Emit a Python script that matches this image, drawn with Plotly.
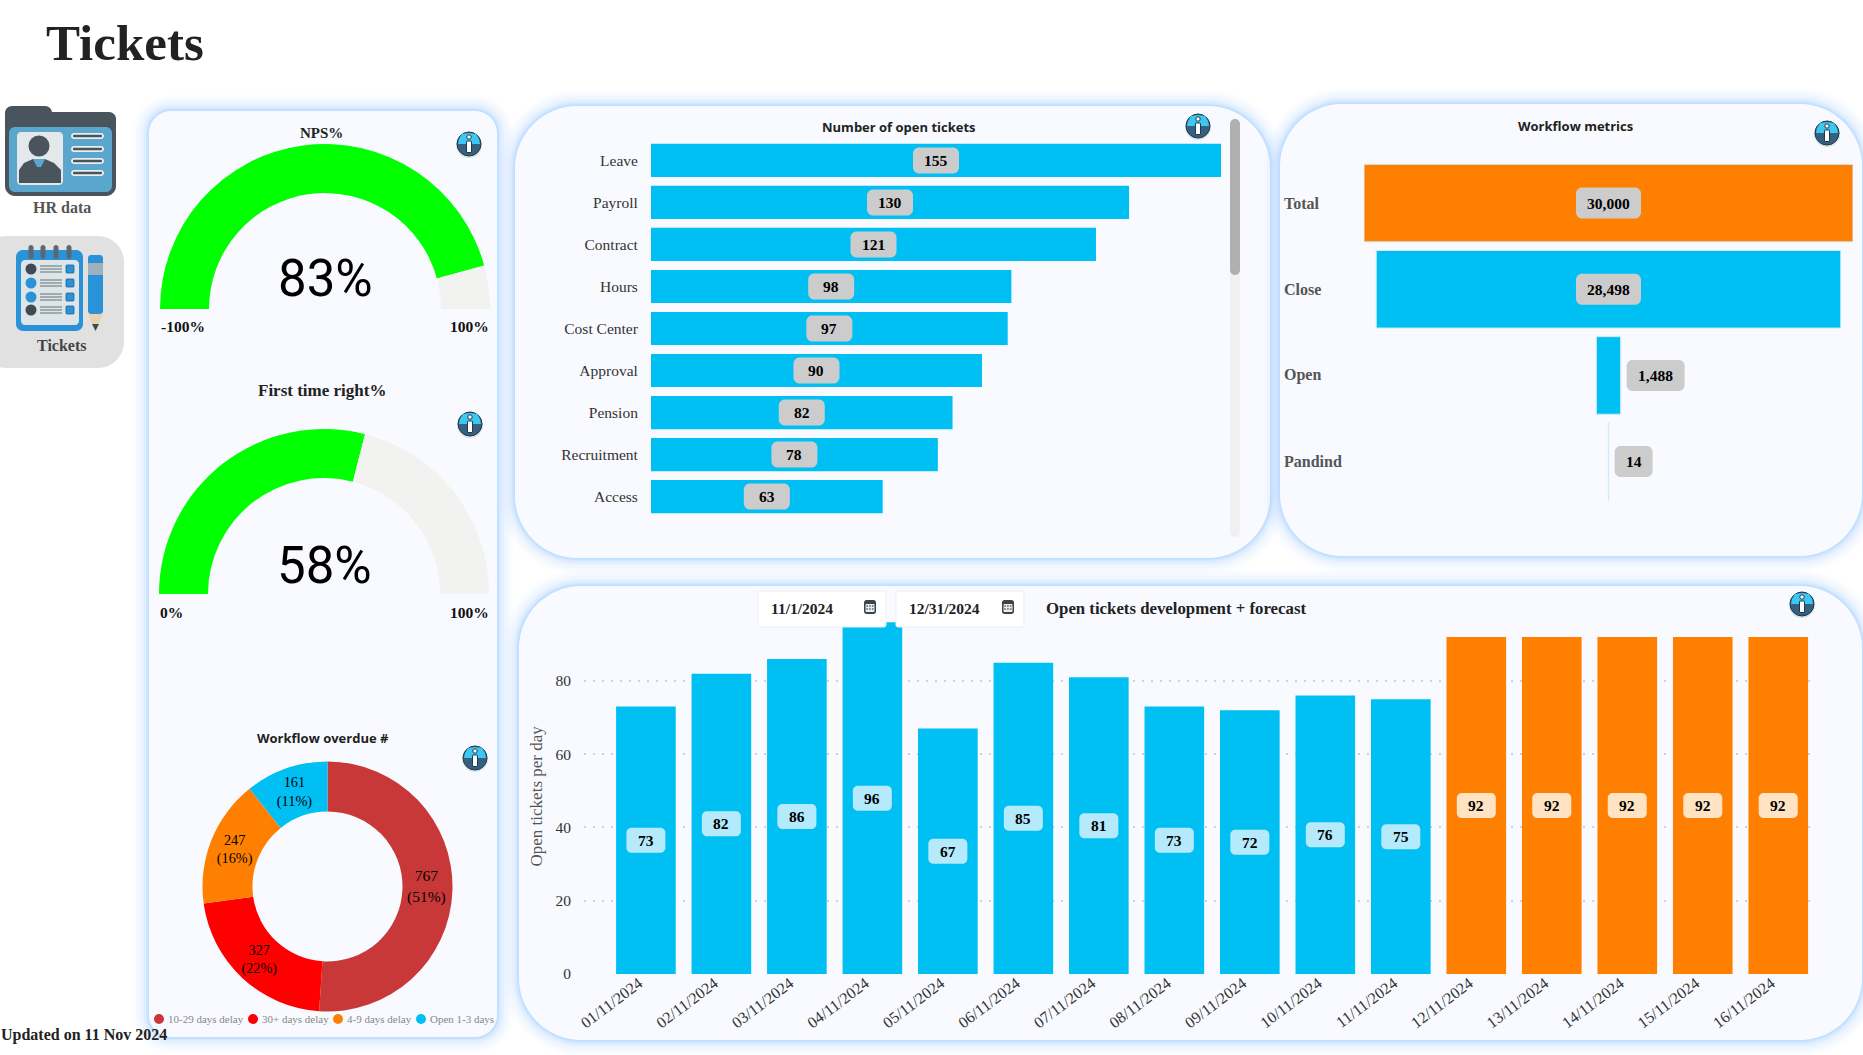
import plotly.graph_objects as go

# ---------- data ----------
nps_value = 83
nps_range = [-100, 100]
ftr_value = 58
ftr_range = [0, 100]

ticket_categories = ["Leave", "Payroll", "Contract", "Hours", "Cost Center", "Approval", "Pension", "Recruitment", "Access"]
ticket_counts = [155, 130, 121, 98, 97, 90, 82, 78, 63]

funnel_stages = ["Total", "Close", "Open", "Pandind"]
funnel_values = [30000, 28498, 1488, 14]

overdue_labels = ["10-29 days delay", "30+ days delay", "4-9 days delay", "Open 1-3 days"]
overdue_values = [767, 327, 247, 161]

actual_dates = ["01/11/2024", "02/11/2024", "03/11/2024", "04/11/2024", "05/11/2024", "06/11/2024",
                "07/11/2024", "08/11/2024", "09/11/2024", "10/11/2024", "11/11/2024"]
actual_open = [73, 82, 86, 96, 67, 85, 81, 73, 72, 76, 75]
forecast_dates = ["12/11/2024", "13/11/2024", "14/11/2024", "15/11/2024", "16/11/2024"]
forecast_open = [92, 92, 92, 92, 92]

# ---------- style ----------
W, H = 1863, 1055
SERIF = "Liberation Serif"
SANS = "Open Sans"
BLUE = "#00BFF3"
ORANGE = "#FF8000"
CRIMSON = "#C93838"
RED = "#FF0000"
GREEN = "#00FF00"
TRACK = "#F2F2F0"
PANEL = "#F8FAFF"
overdue_colors = [CRIMSON, RED, ORANGE, BLUE]


def fx(x):
    return x / W


def fy(y):
    return 1 - y / H


def pt(x, y):
    return f"{fx(x):.5f},{fy(y):.5f}"


shapes = []
annots = []


def rrect(x0, y0, x1, y1, r, fill, line=None, lw=1, layer="above"):
    c = r * 0.45
    p = (f"M{pt(x0 + r, y0)} L{pt(x1 - r, y0)} C{pt(x1 - c, y0)} {pt(x1, y0 + c)} {pt(x1, y0 + r)} "
         f"L{pt(x1, y1 - r)} C{pt(x1, y1 - c)} {pt(x1 - c, y1)} {pt(x1 - r, y1)} "
         f"L{pt(x0 + r, y1)} C{pt(x0 + c, y1)} {pt(x0, y1 - c)} {pt(x0, y1 - r)} "
         f"L{pt(x0, y0 + r)} C{pt(x0, y0 + c)} {pt(x0 + c, y0)} {pt(x0 + r, y0)} Z")
    shapes.append(dict(type="path", xref="paper", yref="paper", path=p, fillcolor=fill,
                       line=dict(color=line or "rgba(0,0,0,0)", width=lw if line else 0), layer=layer))


def circle(cx, cy, r, fill, line=None, lw=1):
    shapes.append(dict(type="circle", xref="paper", yref="paper", x0=fx(cx - r), x1=fx(cx + r),
                       y0=fy(cy + r), y1=fy(cy - r), fillcolor=fill,
                       line=dict(color=line or "rgba(0,0,0,0)", width=lw if line else 0), layer="above"))


def poly(points, fill):
    p = "M" + " L".join(pt(x, y) for x, y in points) + " Z"
    shapes.append(dict(type="path", xref="paper", yref="paper", path=p, fillcolor=fill,
                       line=dict(width=0), layer="above"))


def text(x, y, s, size=15, color="#222", weight=400, family=SERIF, xanchor="center", yanchor="middle", angle=0):
    annots.append(dict(xref="paper", yref="paper", x=fx(x), y=fy(y), text=s, showarrow=False,
                       xanchor=xanchor, yanchor=yanchor, textangle=angle,
                       font=dict(family=family, size=size, color=color, weight=weight)))


def panel(x0, y0, x1, y1, r):
    for d, a in [(16, .05), (13, .07), (10, .09), (7, .12), (5, .18), (3, .3), (1.5, .5)]:
        rrect(x0 - d, y0 - d, x1 + d, y1 + d, r + d, f"rgba(178,216,255,{a})", layer="below")
    rrect(x0, y0, x1, y1, r, PANEL, layer="below")


def info(cx, cy):
    r = 12
    circle(cx, cy + 1, r + 1, "#D5E3E3")
    circle(cx, cy, r, "#37607F", "#1F3A50", 1)
    k = [(cx - r + 1, cy)]
    k += [(cx - r + 2, cy - 5), (cx - 7, cy - 10), (cx, cy - r + 1), (cx + 7, cy - 10), (cx + r - 2, cy - 5), (cx + r - 1, cy)]
    poly(k, "#3CC8F0")
    rrect(cx - 2.5, cy - 3, cx + 2.5, cy + 8.5, 0.5, "#FFFFFF", "#1F3A50", 1)
    circle(cx, cy - 7, 2.2, "#FFFFFF", "#1F3A50", 1)


def calendar(cx, cy):
    rrect(cx - 6, cy - 7, cx + 6, cy + 7, 2.5, "#3F4347")
    rrect(cx - 4.5, cy - 3, cx + 4.5, cy + 5, 1, "#E8EEF2")
    for i in range(3):
        for j in range(2):
            rrect(cx - 3.7 + i * 2.8, cy - 1.8 + j * 3, cx - 2.1 + i * 2.8, cy - 0.2 + j * 3, 0.1, "#5A6670")


def pixel_label(xref, yref, xa, ya, x0, x1, h, r, fill):
    """rounded label box, anchored on data values, sized in pixels"""
    c = r * 0.45
    y0, y1 = -h / 2, h / 2
    p = (f"M{x0 + r},{y0} L{x1 - r},{y0} C{x1 - c},{y0} {x1},{y0 + c} {x1},{y0 + r} "
         f"L{x1},{y1 - r} C{x1},{y1 - c} {x1 - c},{y1} {x1 - r},{y1} "
         f"L{x0 + r},{y1} C{x0 + c},{y1} {x0},{y1 - c} {x0},{y1 - r} "
         f"L{x0},{y0 + r} C{x0},{y0 + c} {x0 + c},{y0} {x0 + r},{y0} Z")
    shapes.append(dict(type="path", xref=xref, yref=yref, xsizemode="pixel", ysizemode="pixel",
                       xanchor=xa, yanchor=ya, path=p, fillcolor=fill, line=dict(width=0), layer="above"))


def data_text(xref, yref, x, y, s, xshift=0, size=15.5):
    annots.append(dict(xref=xref, yref=yref, x=x, y=y, text=s, showarrow=False, xshift=xshift,
                       font=dict(family=SERIF, size=size, color="#000", weight=700)))


# ---------- panels ----------
panel(149, 111, 497, 1037, 22)
panel(515, 106, 1270, 558, 62)
panel(1280, 104, 1862, 556, 62)
panel(519, 586, 1862, 1040, 62)

# ---------- page furniture ----------
text(44, 43, "Tickets", size=51, color="#222", weight=700, xanchor="left")

# HR data folder
rrect(5, 106, 52, 128, 7, "#4A545C")
rrect(5, 112, 116, 135, 7, "#4A545C")
rrect(5, 122, 116, 196, 10, "#4A545C")
rrect(9, 127, 112, 192, 6, "#5BA6CC")
rrect(17, 132, 63, 185, 4, "#E4E8EA")
circle(39, 146, 10.5, "#4A545C")
poly([(19, 183), (19, 170), (24, 163), (33, 159), (45, 159), (54, 163), (61, 170), (61, 183)], "#4A545C")
poly([(33, 159), (45, 159), (41, 167), (37, 167)], "#5BA6CC")
for yy in (136, 149, 161, 173):
    rrect(71, yy - 3, 104, yy + 3, 3, "#E8EEF2")
    rrect(73, yy - 1.2, 102, yy + 1.2, 1, "#4A545C")
text(62, 207, "HR data", size=16, color="#555", weight=700)

# Tickets nav tile
rrect(-20, 236, 124, 368, 26, "#E1E1E1")
rrect(16, 250, 83, 331, 7, "#2A93D8")
rrect(21, 260, 79, 325, 4, "#DDE5E8")
for xx in (31, 43, 56, 69):
    rrect(xx - 2.5, 245, xx + 2.5, 259, 2.5, "#5C6770")
for i, yy in enumerate((269, 283, 297, 310)):
    circle(31, yy, 5.5, "#3F4A52" if i in (0, 3) else "#2A93D8")
    for dy in (-3, 0, 3):
        rrect(40, yy + dy - 0.6, 62, yy + dy + 0.6, 0.2, "#65727B")
    rrect(66, yy - 4, 74, yy + 4, 0.8, "#2A93D8", "#22618E", 0.8)
rrect(88, 255, 103, 314, 3, "#2A93D8")
rrect(88, 263, 103, 275, 0.5, "#9EB2BE")
poly([(88, 314), (103, 314), (95.5, 331)], "#E6D2B4")
poly([(92, 324), (99, 324), (95.5, 331)], "#3F4A52")
text(61, 345.5, "Tickets", size=16, color="#444", weight=700)

text(169, 1035, "Updated on 11 Nov 2024", size=16, color="#222", weight=700, xanchor="right")

# ---------- gauges ----------
def gauge_values(value, rng):
    span = rng[1] - rng[0]
    return [value - rng[0], rng[1] - value, span]


traces = []
for value, rng, cx, cy in [(nps_value, nps_range, 325, 309), (ftr_value, ftr_range, 324, 594)]:
    R = 165
    traces.append(go.Pie(values=gauge_values(value, rng), sort=False, direction="clockwise", rotation=270,
                         hole=0.703, textinfo="none", hoverinfo="skip", showlegend=False,
                         marker=dict(colors=[GREEN, TRACK, "rgba(0,0,0,0)"], line=dict(width=0)),
                         domain=dict(x=[fx(cx - R), fx(cx + R)], y=[fy(cy + R), fy(cy - R)])))

text(325, 279, f"{nps_value}%", size=51, color="#000", family="Roboto")
text(324, 565, f"{ftr_value}%", size=51, color="#000", family="Roboto")
text(321, 133, "NPS%", size=15, weight=700)
text(322, 390, "First time right%", size=17, weight=700)
text(159, 326, f"{nps_range[0]}%", size=15.5, color="#111", weight=700, xanchor="left")
text(491, 326, f"{nps_range[1]}%", size=15.5, color="#111", weight=700, xanchor="right")
text(158, 612, f"{ftr_range[0]}%", size=15.5, color="#111", weight=700, xanchor="left")
text(491, 612, f"{ftr_range[1]}%", size=15.5, color="#111", weight=700, xanchor="right")

# ---------- open tickets by category ----------
traces.append(go.Bar(y=ticket_categories, x=ticket_counts, orientation="h", marker=dict(color=BLUE, line=dict(width=0)),
                     xaxis="x", yaxis="y", showlegend=False, hoverinfo="x+y"))
for c, v in zip(ticket_categories, ticket_counts):
    pixel_label("x", "y", v / 2, c, -23, 23, 26, 6, "#CCCCCC")
    data_text("x", "y", v / 2, c, str(v))
text(899, 127, "Number of open tickets", size=13, color="#222", weight=700, family=SANS)
rrect(1230, 119, 1240, 537, 5, "#F0F0F0")
rrect(1230, 119, 1240, 275, 5, "#B0B0B0")

# ---------- workflow funnel ----------
traces.append(go.Funnel(y=funnel_stages, x=funnel_values, orientation="h", textinfo="none",
                        connector=dict(visible=False), xaxis="x2", yaxis="y2", showlegend=False,
                        marker=dict(color=[ORANGE, BLUE, BLUE, BLUE], line=dict(width=1, color="#CFEAF8"))))
for s, v in zip(funnel_stages, funnel_values):
    annots.append(dict(xref="paper", yref="y2", x=fx(1282), y=s, text=s, showarrow=False, xanchor="left",
                       font=dict(family=SERIF, size=16, color="#555", weight=700)))
    label = f"{v:,}"
    w = 38 if len(label) == 2 else (58 if len(label) == 5 else 65)
    if v > 10000:
        pixel_label("x2", "y2", 0, s, -w / 2, w / 2, 31, 6, "#CCCCCC")
        data_text("x2", "y2", 0, s, label)
    else:
        pixel_label("x2", "y2", v / 2, s, 6, 6 + w, 31, 6, "#CCCCCC")
        data_text("x2", "y2", v / 2, s, label, xshift=6 + w / 2)
text(1575, 126, "Workflow metrics", size=13, color="#222", weight=700, family=SANS)

# ---------- development + forecast ----------
traces.append(go.Bar(x=actual_dates, y=actual_open, marker=dict(color=BLUE, line=dict(width=0)),
                     xaxis="x3", yaxis="y3", showlegend=False))
traces.append(go.Bar(x=forecast_dates, y=forecast_open, marker=dict(color=ORANGE, line=dict(width=0)),
                     xaxis="x3", yaxis="y3", showlegend=False))
for d, v in zip(actual_dates, actual_open):
    pixel_label("x3", "y3", d, v / 2, -19.5, 19.5, 25, 5, "#B4EAFB")
    data_text("x3", "y3", d, v / 2, str(v))
for d, v in zip(forecast_dates, forecast_open):
    pixel_label("x3", "y3", d, v / 2, -19.5, 19.5, 25, 5, "#FFE3C2")
    data_text("x3", "y3", d, v / 2, str(v))

rrect(758, 591, 886, 627, 2, "#FFFFFF", "#ECEEF2", 1)
rrect(896, 591, 1024, 627, 2, "#FFFFFF", "#ECEEF2", 1)
text(769, 608, "11/1/2024", size=15.5, color="#222", weight=700, xanchor="left")
text(907, 608, "12/31/2024", size=15.5, color="#222", weight=700, xanchor="left")
calendar(870, 607)
calendar(1008, 607)
text(1044, 608, "Open tickets development + forecast", size=16.8, color="#222", weight=700, xanchor="left")

# ---------- overdue donut ----------
cx, cy, R = 327.5, 886.5, 125
traces.append(go.Pie(labels=overdue_labels, values=overdue_values, sort=False, direction="clockwise", rotation=0,
                     hole=0.6, textposition="inside", insidetextorientation="horizontal",
                     texttemplate="%{value}<br>(%{percent:.0%})", showlegend=False,
                     textfont=dict(family=SERIF, size=15.5, color="#000"),
                     marker=dict(colors=overdue_colors, line=dict(width=0)),
                     domain=dict(x=[fx(cx - R), fx(cx + R)], y=[fy(cy + R), fy(cy - R)])))
text(323, 738, "Workflow overdue #", size=13, color="#222", weight=700, family=SANS)
for lab, col, mx in zip(overdue_labels, overdue_colors, (159, 253, 338, 421)):
    circle(mx, 1019, 5, col)
    text(mx + 7, 1019, lab, size=11, color="#888888", xanchor="left")

for ic in [(469, 144), (470, 424), (475, 758), (1198, 126), (1827, 133), (1802, 604)]:
    info(*ic)

# ---------- layout ----------
fig = go.Figure(traces)
fig.update_layout(
    width=W, height=H, autosize=False, margin=dict(l=0, r=0, t=0, b=0, pad=0),
    paper_bgcolor="#FFFFFF", plot_bgcolor="rgba(0,0,0,0)", barmode="overlay", bargap=0.21, funnelgap=0.1,
    shapes=shapes, annotations=annots, showlegend=False,
    xaxis=dict(domain=[fx(651), fx(1221)], range=[0, 155], anchor="y", visible=False, fixedrange=True, automargin=False),
    yaxis=dict(domain=[fy(517.6), fy(139.4)], anchor="x", type="category", categoryorder="array", automargin=False,
               categoryarray=ticket_categories, range=[8.5, -0.5], showgrid=False, showline=False, zeroline=False,
               ticks="outside", ticklen=9, tickcolor="rgba(0,0,0,0)",
               tickfont=dict(family=SERIF, size=15.5, color="#333"), fixedrange=True),
    xaxis2=dict(domain=[fx(1364), fx(1853)], range=[-15000, 15000], anchor="y2", visible=False, fixedrange=True, automargin=False),
    yaxis2=dict(domain=[fy(504.7), fy(160)], anchor="x2", type="category", categoryorder="array", automargin=False,
                categoryarray=funnel_stages, range=[3.5, -0.5], visible=False, fixedrange=True),
    xaxis3=dict(domain=[fx(584), fx(1816)], range=[-0.82, 15.5], anchor="y3", type="category", categoryorder="array",
                categoryarray=actual_dates + forecast_dates, showgrid=False, zeroline=False, showline=False, automargin=False,
                ticks="", ticklabelstandoff=-4, tickangle=-37, ticklabelshift=-7,
                tickfont=dict(family=SERIF, size=16, color="#333"), fixedrange=True),
    yaxis3=dict(domain=[fy(974), fy(618.7)], range=[0, 97], anchor="x3", tickvals=[0, 20, 40, 60, 80], automargin=False,
                showgrid=True, gridcolor="#D2D2D2", griddash="2px,7px", gridwidth=1.5, zeroline=False, showline=False,
                ticks="outside", ticklen=9, tickcolor="rgba(0,0,0,0)",
                tickfont=dict(family=SERIF, size=15.5, color="#333"),
                title=dict(text="Open tickets per day", standoff=8,
                           font=dict(family=SERIF, size=17, color="#555")), fixedrange=True),
)

fig.write_html("out.html", config={"displayModeBar": False},
               post_script="document.body.style.margin='0';document.body.style.overflow='hidden';")
